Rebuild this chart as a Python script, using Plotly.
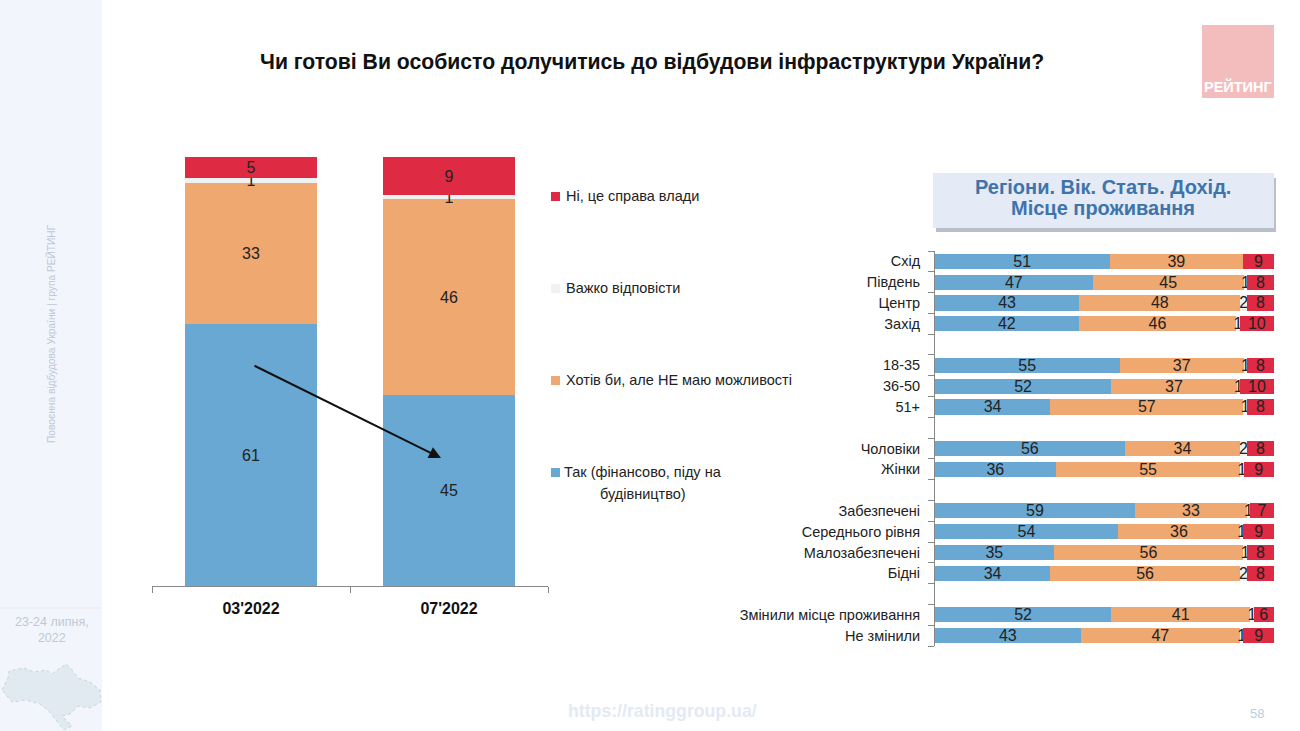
import plotly.graph_objects as go

W = 1300
H = 731
FONT = "Liberation Sans, Arial, sans-serif"

BLUE = "#68a8d3"
ORANGE = "#f0a871"
GREY = "#f1f1f1"
RED = "#de2a43"

title = "Чи готові Ви особисто долучитись до відбудови інфраструктури України?"

# left chart
periods = ["03'2022", "07'2022"]
left_yes = [61, 45]
left_want = [33, 46]
left_hard = [1, 1]
left_no = [5, 9]

legend_labels = [
    "Ні, це справа влади",
    "Важко відповісти",
    "Хотів би, але НЕ маю можливості",
    "Так (фінансово, піду на",
    "будівництво)",
]

# right chart, blank strings are the gaps between groups
groups = ["Схід", "Південь", "Центр", "Захід", " ",
          "18-35", "36-50", "51+", "  ",
          "Чоловіки", "Жінки", "   ",
          "Забезпечені", "Середнього рівня", "Малозабезпечені", "Бідні", "    ",
          "Змінили місце проживання", "Не змінили"]
right_yes = [51, 47, 43, 42, None, 55, 52, 34, None, 56, 36, None, 59, 54, 35, 34, None, 52, 43]
right_want = [39, 45, 48, 46, None, 37, 37, 57, None, 34, 55, None, 33, 36, 56, 56, None, 41, 47]
right_hard = [None, 1, 2, 1, None, 1, 1, 1, None, 2, 1, None, 1, 1, 1, 2, None, 1, 1]
right_no = [9, 8, 8, 10, None, 8, 10, 8, None, 8, 9, None, 7, 9, 8, 8, None, 6, 9]


def px(x):
    return x / W


def py(y):
    return 1 - y / H


def labels(values):
    return ["" if v is None else str(v) for v in values]


def add_bar(fig, x, y, color, text, xaxis, yaxis, orientation, size, width=None):
    fig.add_trace(go.Bar(
        x=x, y=y, orientation=orientation, width=width,
        marker=dict(color=color, line=dict(width=0)),
        text=text, textposition="inside", insidetextanchor="middle",
        textangle=0, constraintext="none", cliponaxis=False,
        textfont=dict(family=FONT, size=size, color="#222222"),
        xaxis=xaxis, yaxis=yaxis, showlegend=False, hoverinfo="skip",
    ))


fig = go.Figure()

left_series = [(left_yes, BLUE), (left_want, ORANGE), (left_hard, GREY), (left_no, RED)]
for values, color in left_series:
    add_bar(fig, periods, values, color, labels(values), "x", "y", "v", 16, width=0.667)

right_series = [(right_yes, BLUE), (right_want, ORANGE), (right_hard, GREY), (right_no, RED)]
for values, color in right_series:
    add_bar(fig, values, groups, color, labels(values), "x2", "y2", "h", 16)


def outline(points):
    return "M " + " L ".join(f"{px(x)} {py(y)}" for x, y in points) + " Z"


# rough outline of the map in the sidebar
map_points = [(2, 690), (8, 678), (9, 671), (24, 668), (34, 672), (46, 670), (52, 674), (60, 668), (66, 664),
              (72, 670), (78, 678), (90, 682), (100, 690), (101, 702), (90, 708), (78, 706), (70, 714), (62, 716),
              (72, 726), (64, 730), (56, 720), (50, 712), (40, 704), (26, 700), (12, 702)]

shapes = [
    # sidebar
    dict(type="rect", x0=0, x1=px(102), y0=0, y1=1, fillcolor="#f2f6fc"),
    dict(type="line", x0=0, x1=px(102), y0=py(608), y1=py(608), line=dict(color="#e6e9ef", width=1)),
    dict(type="path", path=outline(map_points), fillcolor="#e1eaf1", line=dict(color="#c7d3dd", width=1, dash="dot")),
    # logo
    dict(type="rect", x0=px(1202), x1=px(1274), y0=py(98), y1=py(25), fillcolor="#f4bdbd"),
    # header box and its shadow
    dict(type="rect", x0=px(936), x1=px(1276), y0=py(232), y1=py(178), fillcolor="#b8bfcb"),
    dict(type="rect", x0=px(933), x1=px(1274), y0=py(228), y1=py(173), fillcolor="#e4eaf6"),
]
shapes = [dict(s, xref="paper", yref="paper", layer="below", line=s.get("line", dict(width=0))) for s in shapes]

# legend squares, same colours as the bars
for color, y in zip([RED, GREY, ORANGE, BLUE], [196, 288, 380, 472]):
    shapes.append(dict(type="rect", xref="paper", yref="paper", x0=px(551), x1=px(560), y0=py(y + 5), y1=py(y - 4),
                       fillcolor=color, line=dict(width=0)))

annotations = []


def note(x, y, text, size, color="#222222", anchor="center", align="center", bold=False, angle=0):
    annotations.append(dict(
        xref="paper", yref="paper", x=px(x), y=py(y), text=f"<b>{text}</b>" if bold else text,
        showarrow=False, xanchor=anchor, yanchor="middle", align=align, textangle=angle,
        font=dict(family=FONT, size=size, color=color),
    ))


note(652, 62, title, 21.2, color="#111111", bold=True)
note(1238, 87, "РЕЙТИНГ", 14.5, color="#ffffff", bold=True)
note(1103, 187, "Регіони. Вік. Стать. Дохід.", 20, color="#3f74ab", bold=True)
note(1103, 208, "Місце проживання", 20, color="#3f74ab", bold=True)
note(51, 334, "Повоєнна відбудова України | група РЕЙТИНГ", 10.2, color="#bcc8d8", angle=-90)
note(52, 630, "23-24 липня,<br>2022", 12.5, color="#c0c8d4")
note(662, 711, "https://ratinggroup.ua/", 17.7, color="#e3eaf4", bold=True)
note(1257, 713, "58", 13, color="#b7cde4")

note(564, 196, legend_labels[0], 14.5, anchor="left")
note(564, 288, legend_labels[1], 14.5, anchor="left")
note(564, 380, legend_labels[2], 14.5, anchor="left")
note(643, 472, legend_labels[3], 14.5)
note(643, 494, legend_labels[4], 14.5)

# arrow across the two bars
annotations.append(dict(
    xref="paper", yref="paper", x=px(441), y=py(458), ax=-188, ay=-93, axref="pixel", ayref="pixel",
    text="", showarrow=True, arrowhead=2, arrowsize=1.2, arrowwidth=2, arrowcolor="#111111",
))

fig.update_layout(
    width=W, height=H,
    margin=dict(l=0, r=0, t=0, b=0),
    paper_bgcolor="#ffffff", plot_bgcolor="rgba(0,0,0,0)",
    barmode="stack", barnorm="percent",
    shapes=shapes, annotations=annotations,
    font=dict(family=FONT),
    xaxis=dict(
        domain=[px(152), px(548)], anchor="y", type="category", tickson="boundaries",
        ticks="outside", ticklen=6, tickcolor="#888888", showline=True, linecolor="#888888",
        showgrid=False, tickfont=dict(family=FONT, size=16, color="#111111"),
        tickvals=periods, ticktext=[f"<b>{p}</b>" for p in periods], ticklabelstandoff=8,
    ),
    yaxis=dict(domain=[py(586), py(157)], anchor="x", range=[0, 100], visible=False),
    # range slightly over 100, the 99-sum rows lost their label at exactly 100
    xaxis2=dict(domain=[px(935), px(1274)], anchor="y2", range=[0, 100.01], visible=False),
    yaxis2=dict(
        domain=[py(646), py(251)], anchor="x2", type="category", categoryorder="array",
        categoryarray=groups, autorange="reversed", tickson="boundaries", ticks="outside",
        ticklen=6, tickcolor="#888888", showline=True, linecolor="#888888", showgrid=False,
        tickfont=dict(family=FONT, size=14.5, color="#222222"), tickmode="array", tickvals=groups,
        ticklabelstandoff=11,
    ),
    bargap=0.27,
)

# page margin would push the figure 8px off
fig.write_html("out.html", post_script="document.body.style.margin='0';", config={"displayModeBar": False})
